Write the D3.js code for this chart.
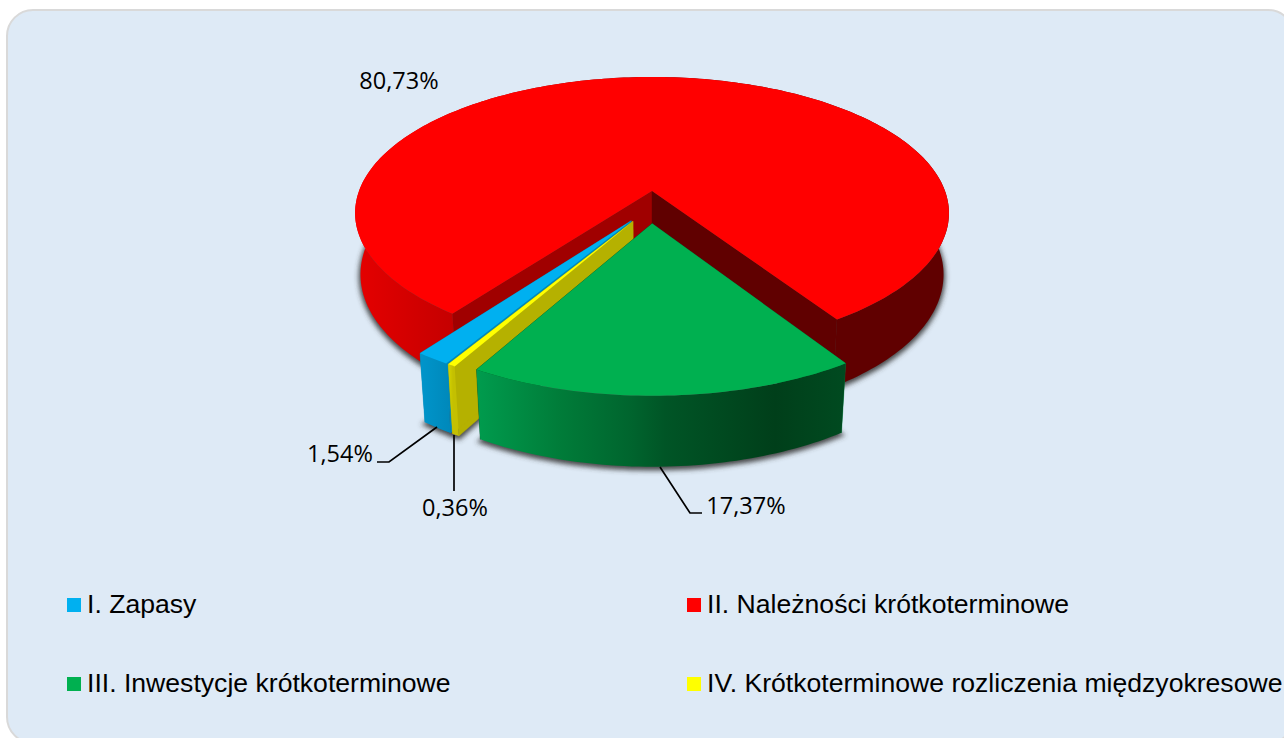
<!DOCTYPE html>
<html><head><meta charset="utf-8">
<script src="https://cdn.jsdelivr.net/npm/d3@7"></script>
<style>html,body{margin:0;padding:0;background:#fff;overflow:hidden}svg{display:block}</style>
</head><body><svg id="c" width="1284" height="738"></svg>
<script>
// ---- data ----
const categories = ["I. Zapasy","II. Należności krótkoterminowe","III. Inwestycje krótkoterminowe","IV. Krótkoterminowe rozliczenia międzyokresowe"];
const values = [1.54,80.73,17.37,0.36];
const topColors = ["#00b0f0","#ff0000","#00b050","#ffff00"];

// ---- projection of the tilted pie (perspective) ----
const firstSliceDeg = 210.8, explode = 0.118, persp = 0.162, depth = 0.018, wallH = 0.466;
const sx = d3.scaleLinear().domain([-1,1]).range([651-293,651+293]);
const sy = d3.scaleLinear().domain([-1,1]).range([191-132.5,191+132.5]);
const project = (u,v,z) => { const w = 1 - persp*v + depth*z; return [sx(u/w), sy((v + wallH*z)/w)]; };

const svg = d3.select("#c");
const defs = svg.append("defs");
defs.append("filter").attr("id","blur").attr("x","-10%").attr("y","-10%").attr("width","120%").attr("height","120%")
  .append("feGaussianBlur").attr("stdDeviation",2.6);
const grad = (id,stops)=>{ const g=defs.append("linearGradient").attr("id",id).attr("gradientUnits","userSpaceOnUse")
    .attr("x1",sx(-1)).attr("x2",sx(1)).attr("y1",0).attr("y2",0);
  stops.forEach(s=>g.append("stop").attr("offset",(s[0]-sx(-1))/(sx(1)-sx(-1))).attr("stop-color",s[1])); };
grad("wallRed",[[359,"#e40000"],[450,"#c60000"],[600,"#800000"],[800,"#600000"]]);
grad("wallGreen",[[475,"#009c4e"],[560,"#007c39"],[630,"#00652e"],[665,"#005526"],[775,"#003f1a"],[845,"#004a20"]]);
grad("wallBlue",[[418,"#0096cc"],[451,"#0088ba"]]);
grad("wallYellow",[[446,"#dcdc00"],[453,"#c4c000"]]);
const wallFill = ["url(#wallBlue)","url(#wallRed)","url(#wallGreen)","url(#wallYellow)"];
const faceFill = [["#0088ba","#0088ba"],["#a00000","#600000"],["#007c39","#004a20"],["#b5b100","#b5b100"]];

// panel
svg.append("rect").attr("x",7).attr("y",10).attr("width",1287).attr("height",733).attr("rx",26)
  .attr("fill","#deeaf6").attr("stroke","#d9d9d9").attr("stroke-width",2);

const pie = d3.pie().sort(null).startAngle(firstSliceDeg*Math.PI/180).endAngle(firstSliceDeg*Math.PI/180+2*Math.PI);
const arcs = pie(values).map((d,i)=>{
  const mid=(d.startAngle+d.endAngle)/2;
  const ou=explode*Math.sin(mid), ov=explode-explode*Math.cos(mid);
  const n=Math.max(2,Math.ceil((d.endAngle-d.startAngle)/0.02));
  const rim=d3.range(n+1).map(k=>{const t=d.startAngle+(d.endAngle-d.startAngle)*k/n;return [ou+Math.sin(t),ov-Math.cos(t)];});
  return {i,ou,ov,rim};
});
const line=d3.line();
const at=(pts,z)=>pts.map(p=>project(p[0],p[1],z));
const shadowG=svg.append("g").attr("filter","url(#blur)");
const pieG=svg.append("g");

// shadow
arcs.forEach(a=>{
  const s=line(at(a.rim,1).concat([project(a.ou,a.ov,1)]))+"Z";
  shadowG.append("path").attr("d",s).attr("transform","translate(0,2)").attr("fill","#3c3c3c").attr("stroke","#3c3c3c").attr("stroke-width",4).attr("stroke-opacity",.75).attr("fill-opacity",.9);
});

// painter's order: red, blue, yellow, green
[1,0,3,2].forEach(i=>{
  const a=arcs[i], apex=[a.ou,a.ov], first=a.rim[0], last=a.rim[a.rim.length-1];
  const g=pieG.append("g");
  const face=(p,fill)=>g.append("path").attr("d",line([project(apex[0],apex[1],0),project(p[0],p[1],0),project(p[0],p[1],1),project(apex[0],apex[1],1)])+"Z").attr("fill",fill).attr("stroke",fill).attr("stroke-width",.4);
  face(first,faceFill[i][0]);
  face(last,faceFill[i][1]);
  g.append("path").attr("d",line(at(a.rim,0).concat(at(a.rim,1).reverse()))+"Z").attr("fill",wallFill[i]);
  g.append("path").attr("d",line(at(a.rim,0).concat([project(apex[0],apex[1],0)]))+"Z").attr("fill",topColors[i]);
});

// leaders
const leaders=[[[437,427],[389,462],[377,462]],[[454,435],[454,491]],[[660,467],[690,513],[702,513]]];
svg.append("g").selectAll("path").data(leaders).join("path").attr("d",d=>line(d)).attr("fill","none").attr("stroke","#000").attr("stroke-width",1.7);

// value labels
const fmt=v=>d3.format(".2f")(v).replace(".",",")+"%";
const labelPos=[[340,454],[399,81],[746,506],[455,508]];
svg.append("g").selectAll("text").data(values).join("text")
  .attr("x",(d,i)=>labelPos[i][0]).attr("y",(d,i)=>labelPos[i][1]).attr("text-anchor","middle").attr("dy","0.36em")
  .attr("font-family","'Open Sans'").attr("font-size",23.5).attr("fill","#000").text(fmt);

// legend
const legPos=[[67,598],[687,598],[67,677],[687,677]];
const lg=svg.append("g").selectAll("g").data(categories).join("g").attr("transform",(d,i)=>`translate(${legPos[i][0]},${legPos[i][1]})`);
lg.append("rect").attr("width",14).attr("height",14).attr("fill",(d,i)=>topColors[i]);
lg.append("text").attr("x",20).attr("y",14.5).attr("font-family","'Liberation Sans'").attr("font-size",26.6).attr("fill","#000").text(d=>d);
</script></body></html>
